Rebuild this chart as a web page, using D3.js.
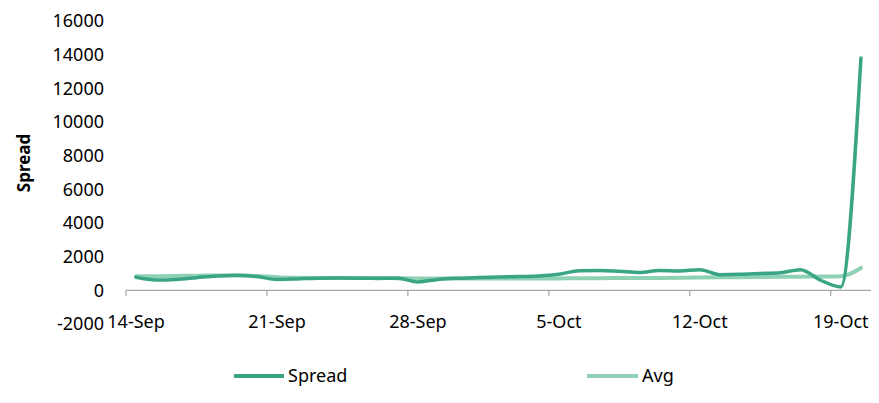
<!DOCTYPE html>
<html><head><meta charset="utf-8">
<script src="https://cdn.jsdelivr.net/npm/d3@7"></script>
<style>body{margin:0;background:#fff}svg{display:block}text{font-family:"Noto Sans",sans-serif}</style>
</head><body><svg id="c" width="879" height="403"></svg>
<script>
const categories = ["14-Sep","15-Sep","16-Sep","17-Sep","18-Sep","19-Sep","20-Sep","21-Sep","22-Sep","23-Sep","24-Sep","25-Sep","26-Sep","27-Sep","28-Sep","29-Sep","30-Sep","1-Oct","2-Oct","3-Oct","4-Oct","5-Oct","6-Oct","7-Oct","8-Oct","9-Oct","10-Oct","11-Oct","12-Oct","13-Oct","14-Oct","15-Oct","16-Oct","17-Oct","18-Oct","19-Oct","20-Oct"];
const spread = [780,620,650,750,850,900,820,650,680,720,730,720,710,720,500,650,720,760,790,820,850,950,1170,1180,1130,1060,1180,1150,1230,930,950,1000,1050,1230,600,200,13800];
const avg = [830,840,850,870,880,880,850,780,750,740,740,730,730,720,710,710,700,700,700,700,700,710,720,720,730,730,740,750,760,770,780,790,800,810,820,830,1330];
const tickLabels = ["14-Sep","21-Sep","28-Sep","5-Oct","12-Oct","19-Oct"];
const yTicks = [-2000,0,2000,4000,6000,8000,10000,12000,14000,16000];

const svg = d3.select("#c");
const x = d3.scaleBand().domain(categories).range([126, 871]).padding(0);
const y = d3.scaleLinear().domain([-2000, 16000]).range([324, 21]);
const xc = d => x(d) + x.bandwidth()/2;

svg.append("g").selectAll("text").data(yTicks).join("text")
  .attr("x", 104).attr("y", d => y(d)).attr("dy", "0.35em")
  .attr("text-anchor", "end").attr("font-size", 18).attr("fill", "#000")
  .text(d => d);

svg.append("text").attr("transform", `translate(30,163) rotate(-90)`)
  .attr("text-anchor", "middle").attr("font-size", 17).attr("font-weight", "bold")
  .text("Spread");

const y0 = y(0);
svg.append("line").attr("x1", x.range()[0]).attr("x2", x.range()[1])
  .attr("y1", y0).attr("y2", y0).attr("stroke", "#a6a6a6").attr("stroke-width", 1.2);
svg.append("g").selectAll("line").data(tickLabels).join("line")
  .attr("x1", d => x(d)).attr("x2", d => x(d)).attr("y1", y0).attr("y2", y0 + 6)
  .attr("stroke", "#a6a6a6").attr("stroke-width", 1.2);
svg.append("g").selectAll("text").data(tickLabels).join("text")
  .attr("x", d => xc(d)).attr("y", 322).attr("dy", "0.35em")
  .attr("text-anchor", "middle").attr("font-size", 18).text(d => d);

const line = d3.line().x((d,i) => xc(categories[i])).y(d => y(d)).curve(d3.curveMonotoneX);
svg.append("path").datum(avg).attr("d", line).attr("fill", "none")
  .attr("stroke", "#8fd1b5").attr("stroke-width", 4).attr("stroke-linecap", "round");
svg.append("path").datum(spread).attr("d", line).attr("fill", "none")
  .attr("stroke", "#3aa584").attr("stroke-width", 3.5).attr("stroke-linecap", "round");

const leg = [{name:"Spread", c:"#3aa584", x1:234, x2:284, tx:288},{name:"Avg", c:"#8fd1b5", x1:587, x2:638, tx:642}];
leg.forEach(l => {
  svg.append("line").attr("x1", l.x1).attr("x2", l.x2).attr("y1", 376).attr("y2", 376)
    .attr("stroke", l.c).attr("stroke-width", 4);
  svg.append("text").attr("x", l.tx).attr("y", 376).attr("dy", "0.35em")
    .attr("font-size", 18).text(l.name);
});
</script></body></html>
